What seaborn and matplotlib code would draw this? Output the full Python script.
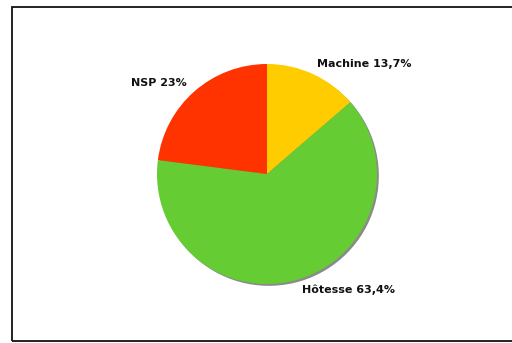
import matplotlib
matplotlib.use("Agg")
import matplotlib.pyplot as plt
import matplotlib.patches as mpatches
import seaborn as sns

# Data
categories = ["Machine", "Hôtesse", "NSP"]
percent_labels = ["13,7%", "63,4%", "23%"]
shares = [13.7, 63.4, 23.0]
slice_colors = ["#FFCC00", "#66CC33", "#FF3300"]

sns.set_style("white")
plt.rcParams['font.family'] = ['DejaVu Sans']

fig = plt.figure(figsize=(5.12, 3.43), dpi=100)
fig.patch.set_facecolor("white")

# pie centred at (267, 174) px from top-left, radius ~110 px
W, H = 512, 343
cx, cy, r = 267, 343 - 174, 110
ax = fig.add_axes([(cx - r) / W, (cy - r) / H, 2 * r / W, 2 * r / H])

labels = [f"{c} {p}" for c, p in zip(categories, percent_labels)]
wedges, texts = ax.pie(shares, labels=labels, colors=slice_colors,
                       startangle=90, counterclock=False, radius=1,
                       labeldistance=1.1,
                       textprops=dict(fontsize=8, fontweight="bold",
                                      color="#111111"),
                       wedgeprops=dict(linewidth=0),
                       shadow={'ox': 0.012, 'oy': -0.012,
                               'facecolor': '#8a8a8a',
                               'edgecolor': 'none', 'alpha': 1.0})
ax.set_xlim(-1, 1)
ax.set_ylim(-1, 1)
ax.set_aspect('auto')
ax.axis('off')
for t in texts:
    t.set_clip_on(False)

# frame around the chart (right side runs off the image)
frame = mpatches.Rectangle((11.5 / W, 2 / H), 1.0, (336.5 - 2) / H,
                           transform=fig.transFigure, fill=False,
                           edgecolor="#111111", linewidth=1.3)
fig.patches.append(frame)

fig.savefig("out.png", dpi=100)
